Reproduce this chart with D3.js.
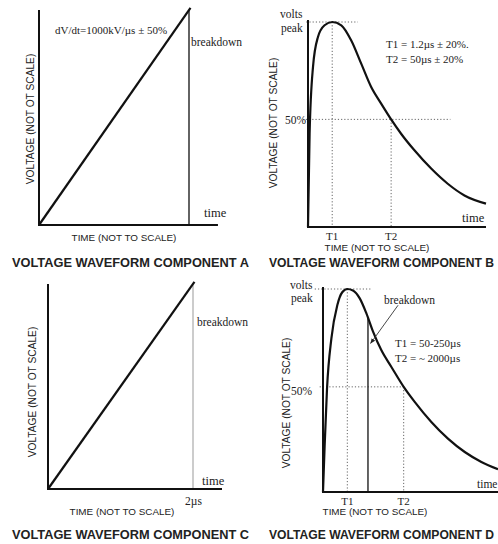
<!DOCTYPE html>
<html><head><meta charset="utf-8">
<script src="https://cdn.jsdelivr.net/npm/d3@7"></script>
<style>
html,body{margin:0;padding:0;background:#fff;}
svg{display:block;}
.serif{font-family:"Liberation Serif","DejaVu Serif",serif;fill:#222;}
.sans{font-family:"Liberation Sans",Arial,sans-serif;fill:#222;}
</style></head>
<body>
<svg id="c" width="498" height="544"></svg>
<script>
// ---------- DATA (normalized: time 0..100, voltage 0..100 = peak) ----------
const rampA = [[0,0],[101,101]];
const rampC = [[0,0],[101,101]];
const impulseB = [[0,0],[0.9,45.5],[2.8,78],[5.6,92.7],[9.3,98.4],[13.6,100],[18.7,98.4],[24.3,91],[29.9,79.7],[35.5,68.3],[41.1,60.2],[46.7,52.5],[52.3,45.5],[59.8,37.4],[69.2,28.5],[78.5,21.1],[87.9,15.4],[100,11.4]];
const impulseD = [[0,0],[0.95,23],[2.3,51],[4.8,75.7],[8.2,92.1],[11,98.4],[13.9,100],[17.1,99.3],[21,95.4],[24.8,88],[28.6,79],[33.3,69.9],[39,61.7],[46.1,51.8],[52.4,44.4],[61.9,34.5],[71.4,26.3],[81,19.7],[90.5,14.8],[100,11.2]];
const breakdownTimes = {A:100, C:100, D:25.7};
const markTimesB = [13.6, 46.7];
const markTimesD = [13.9, 46.1];
const halfLevelB = 52.5;
const halfLevelD = 51.8;
const markLabels = ["T1","T2"];
const titles = ["VOLTAGE WAVEFORM COMPONENT A","VOLTAGE WAVEFORM COMPONENT B","VOLTAGE WAVEFORM COMPONENT C","VOLTAGE WAVEFORM COMPONENT D"];
const xTitle = "TIME (NOT TO SCALE)";
const xTitleB = "TIME (NOT  TO SCALE)";
const yTitle = "VOLTAGE  (NOT OT SCALE)";
const noteA = "dV/dt=1000kV/\u00b5s \u00b1 50%";
const noteB = ["T1 = 1.2\u00b5s \u00b1 20%.","T2 = 50\u00b5s \u00b1 20%"];
const noteD = ["T1 = 50-250\u00b5s","T2 = ~ 2000\u00b5s"];

// ---------- DRAW ----------
const svg = d3.select("#c");
const line = d3.line().x(d=>d[0]).y(d=>d[1]);

function makeScales(x0,x1,y0,y1){
  return {x:d3.scaleLinear().domain([0,100]).range([x0,x1]),
          y:d3.scaleLinear().domain([0,100]).range([y0,y1])};
}
function axes(s, vTop, tEnd){
  svg.append("path")
    .attr("d", line([[s.x(0),s.y(vTop)],[s.x(0),s.y(0)],[s.x(tEnd),s.y(0)]]))
    .attr("fill","none").attr("stroke","#111").attr("stroke-width",2);
}
function curve(s, data, smooth){
  const l = d3.line().x(d=>s.x(d[0])).y(d=>s.y(d[1]));
  if(smooth) l.curve(d3.curveMonotoneX);
  svg.append("path").attr("d", l(data)).attr("fill","none")
    .attr("stroke","#111").attr("stroke-width",2.2).attr("stroke-linejoin","round");
}
function seg(s, a, b, stroke, w, dash){
  const p = svg.append("line")
    .attr("x1",s.x(a[0])).attr("y1",s.y(a[1])).attr("x2",s.x(b[0])).attr("y2",s.y(b[1]))
    .attr("stroke",stroke).attr("stroke-width",w);
  if(dash) p.attr("stroke-dasharray",dash);
  return p;
}
function txt(x,y,str,cls,size,anchor,weight){
  return svg.append("text").attr("x",x).attr("y",y).attr("class",cls)
    .attr("font-size",size).attr("text-anchor",anchor||"start")
    .attr("font-weight",weight||"normal").text(str);
}
function title(x,y,str,len){
  return svg.append("text").attr("x",x).attr("y",y).attr("class","sans")
    .attr("font-size",12).attr("font-weight","bold")
    .attr("textLength",len).attr("lengthAdjust","spacingAndGlyphs").text(str);
}
function ylab(x,y){
  svg.append("text").attr("class","sans").attr("font-size",10.2)
    .attr("transform",`translate(${x},${y}) rotate(-90)`)
    .attr("text-anchor","middle").attr("dominant-baseline","central").text(yTitle);
}
const xtSize = 9.9;
const dotted = "1.2,2";
const dotCol = "#666";

// Panel A
{
  const s = makeScales(39,189,225,10);
  seg(s,[breakdownTimes.A,100],[breakdownTimes.A,0],"#222",1.4);
  axes(s,100,119.3);
  curve(s,rampA,false);
  txt(55,34,noteA,"serif",11);
  txt(191,46,"breakdown","serif",11.5);
  txt(204,217,"time","serif",12.5);
  txt(124,241,xTitle,"sans",xtSize,"middle");
  ylab(30,119);
  title(12,266.5,titles[0],237);
}
// Panel B
{
  const s = makeScales(308,486,227,22);
  seg(s,[-1,100],[28,100],dotCol,1,dotted);
  seg(s,[-3,halfLevelB],[80,halfLevelB],dotCol,1,dotted);
  seg(s,[markTimesB[0],100],[markTimesB[0],0],dotCol,1,dotted);
  seg(s,[markTimesB[1],halfLevelB],[markTimesB[1],0],dotCol,1,dotted);
  axes(s,101,100);
  curve(s,impulseB,true);
  txt(280,18,"volts","serif",11.5);
  txt(281,32,"peak","serif",11.5);
  txt(285,124,"50%","serif",11.5);
  txt(386,48,noteB[0],"serif",11);
  txt(386,63,noteB[1],"serif",11);
  txt(462,222,"time","serif",12.5);
  markTimesB.forEach((t,i)=>txt(s.x(t),239.5,markLabels[i],"serif",11,"middle"));
  txt(377,251,xTitleB,"sans",xtSize,"middle");
  ylab(273,123);
  title(269,266.5,titles[1],225);
}
// Panel C
{
  const s = makeScales(48,193,489,284);
  seg(s,[breakdownTimes.C,100],[breakdownTimes.C,0],"#999",1);
  axes(s,100,120);
  curve(s,rampC,false);
  txt(197,326,"breakdown","serif",11.5);
  txt(202,485,"time","serif",12.5);
  txt(185,505,"2\u00b5s","serif",11.5);
  txt(122,515,xTitle,"sans",xtSize,"middle");
  ylab(32,392);
  title(12,538.5,titles[2],237);
}
// Panel D
{
  const s = makeScales(323,498,492,289);
  seg(s,[-4.7,100],[27.6,100],dotCol,1,dotted);
  seg(s,[-1.9,halfLevelD],[46.7,halfLevelD],dotCol,1,dotted);
  seg(s,[markTimesD[0],100],[markTimesD[0],0],dotCol,1,dotted);
  seg(s,[markTimesD[1],halfLevelD],[markTimesD[1],0],dotCol,1,dotted);
  seg(s,[breakdownTimes.D,86],[breakdownTimes.D,0],"#222",1.4);
  axes(s,101,100);
  curve(s,impulseD,true);
  svg.append("defs").append("marker").attr("id","ah").attr("viewBox","0 0 10 10")
    .attr("refX",9).attr("refY",5).attr("markerWidth",6).attr("markerHeight",6).attr("orient","auto")
    .append("path").attr("d","M0,1L10,5L0,9z").attr("fill","#222");
  seg(s,[42.9,92],[27.2,73.2],"#333",0.9).attr("marker-end","url(#ah)");
  txt(384,304,"breakdown","serif",11.5);
  txt(290,289,"volts","serif",11.5);
  txt(291,302,"peak","serif",11.5);
  txt(291,395,"50%","serif",11.5);
  txt(395,347,noteD[0],"serif",11);
  txt(395,362,noteD[1],"serif",11);
  txt(477,488,"time","serif",11.5);
  markTimesD.forEach((t,i)=>txt(s.x(t),504.5,markLabels[i],"serif",11,"middle"));
  txt(375,515,xTitle,"sans",xtSize,"middle");
  ylab(286,403);
  title(269,538.5,titles[3],225);
}
</script>
</body></html>
